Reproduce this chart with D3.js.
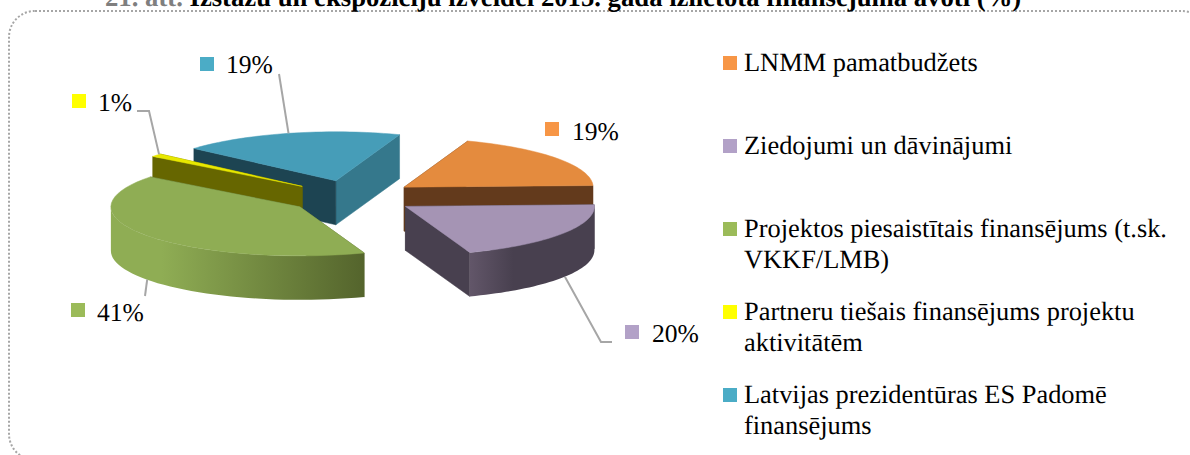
<!DOCTYPE html>
<html><head><meta charset="utf-8">
<style>html,body{margin:0;padding:0;background:#fff;overflow:hidden}svg{display:block}text{font-family:"Liberation Serif",serif;fill:#000;text-rendering:geometricPrecision}</style>
<script src="https://cdn.jsdelivr.net/npm/d3@7/dist/d3.min.js"></script>
</head><body><script>
const categories = ["LNMM pamatbudžets","Ziedojumi un dāvinājumi","Projektos piesaistītais finansējums (t.sk. VKKF/LMB)","Partneru tiešais finansējums projektu aktivitātēm","Latvijas prezidentūras ES Padomē finansējums"];
const values = [19,20,41,1,19];
const legendLines = [["LNMM pamatbudžets"],["Ziedojumi un dāvinājumi"],["Projektos piesaistītais finansējums (t.sk.","VKKF/LMB)"],["Partneru tiešais finansējums projektu","aktivitātēm"],["Latvijas prezidentūras ES Padomē","finansējums"]];
const swatchColors = ["#F79646","#B2A1C7","#9BBB59","#FFFF00","#4BACC6"];
const topColors = ["#E48B3E","#A594B4","#8FAD54","#E8E800","#469DB8"];
const wallColors = ["#633A1C","#48404F","#54642C","#666600","#1D4452"];
const endWallColors = ["#633A1C","#48404F","#54642C","#666600","#35788C"];
const arcLight = ["#633A1C","#625669","#8FAD54","#666600","#35788C"];

const W=1190,H=455, cx=352, cy=197, rx=189, ry=49, depth=44, explode=64.5, deg=Math.PI/180, rot=19.7;
const svg=d3.select("body").append("svg").attr("width",W).attr("height",H);
const defs=svg.append("defs");

// frame
svg.append("rect").attr("x",9).attr("y",11).attr("width",1199).attr("height",449).attr("rx",26)
  .attr("fill","none").attr("stroke","#A6A6A6").attr("stroke-width",2).attr("stroke-dasharray","2 2");

// title
svg.append("text").attr("x",105).attr("y",6).attr("font-size",26.7).attr("font-weight","bold")
  .call(t=>{t.append("tspan").style("fill","#7F7F7F").text("21. att. ");
            t.append("tspan").text("Izstāžu un ekspozīciju izveidei 2015. gada izlietotā finansējuma avoti (%)");});

const pie=d3.pie().sort(null).startAngle(rot*deg).endAngle((rot+360)*deg);
const arcs=pie(values);
const lineGen=d3.line();
const apexOf=d=>{const m=(d.startAngle+d.endAngle)/2;return [cx+explode*Math.sin(m),cy-explode*Math.cos(m)*ry/rx];};
const rim=(a,p,dz=0)=>[p[0]+rx*Math.sin(a),p[1]-ry*Math.cos(a)+dz];
const samples=(a0,a1)=>d3.range(0,41).map(i=>a0+(a1-a0)*i/40);

const order=[4,3,0,1,2];
const pieG=svg.append("g");
order.forEach(i=>{
  const d=arcs[i],p=apexOf(d),g=pieG.append("g");
  const wall=(a,color)=>{const q=rim(a,p);
    g.append("path").attr("fill",color).attr("stroke",color).attr("stroke-width",0.5)
     .attr("d",lineGen([p,q,[q[0],q[1]+depth],[p[0],p[1]+depth]])+"Z");};
  const walls=[[d.startAngle,wallColors[i]],[d.endAngle,endWallColors[i]]]
    .sort((u,v)=>rim(u[0],p)[1]-rim(v[0],p)[1]);
  walls.forEach(w=>wall(w[0],w[1]));
  const a0=Math.max(d.startAngle,90*deg),a1=Math.min(d.endAngle,270*deg);
  if(a1>a0){
    const s=samples(a0,a1);
    const top=s.map(a=>rim(a,p)),bot=s.map(a=>rim(a,p,depth)).reverse();
    const xs=top.map(t=>t[0]);
    const id="wall"+i;
    const lg=defs.append("linearGradient").attr("id",id).attr("gradientUnits","userSpaceOnUse")
      .attr("x1",d3.min(xs)).attr("x2",d3.max(xs)).attr("y1",0).attr("y2",0);
    const stops=i===1?[[0,arcLight[1]],[.35,wallColors[1]],[1,wallColors[1]]]:
                i===2?[[0,arcLight[2]],[.2,arcLight[2]],[1,wallColors[2]]]:
                [[0,arcLight[i]],[1,wallColors[i]]];
    stops.forEach(t=>lg.append("stop").attr("offset",t[0]).attr("stop-color",t[1]));
    g.append("path").attr("fill",`url(#${id})`).attr("d",lineGen(top.concat(bot))+"Z");
  }
  g.append("path").attr("fill",topColors[i]).attr("stroke",topColors[i]).attr("stroke-width",0.5)
   .attr("d",lineGen([p].concat(samples(d.startAngle,d.endAngle).map(a=>rim(a,p))))+"Z");
});

// leader lines, anchored on the slices
const angleFrac=[null,.477,.50,.85,.50];
const anchor=(i)=>{const d=arcs[i],p=apexOf(d),a=d.startAngle+(d.endAngle-d.startAngle)*angleFrac[i];
  return rim(a,p,(a>90*deg&&a<270*deg)?depth:0);};
const leaderEnds=[null,[[612,342],[601,342]],[[145,296]],[[137,111],[149,111]],[[279,74]]];
[1,2,3,4].forEach(i=>{
  const pts=leaderEnds[i].concat([anchor(i)]);
  svg.append("path").attr("fill","none").attr("stroke","#A6A6A6").attr("stroke-width",2).attr("d",lineGen(pts));
});

// data labels
const labelPos=[[545,122,572,140],[625,325,652,342],[71,303,97,321],[72,94,98,111],[200,57,226,73]];
labelPos.forEach((l,i)=>{
  svg.append("rect").attr("x",l[0]).attr("y",l[1]).attr("width",14).attr("height",14).attr("fill",swatchColors[i]);
  svg.append("text").attr("x",l[2]).attr("y",l[3]).attr("font-size",25.6).text(values[i]+"%");
});

// legend
const legendY=[71,154,237,320,403];
legendLines.forEach((lines,i)=>{
  svg.append("rect").attr("x",723).attr("y",legendY[i]-15).attr("width",14).attr("height",14).attr("fill",swatchColors[i]);
  lines.forEach((s,k)=>svg.append("text").attr("x",744).attr("y",legendY[i]+k*31).attr("font-size",26.4).text(s));
});
</script></body></html>
